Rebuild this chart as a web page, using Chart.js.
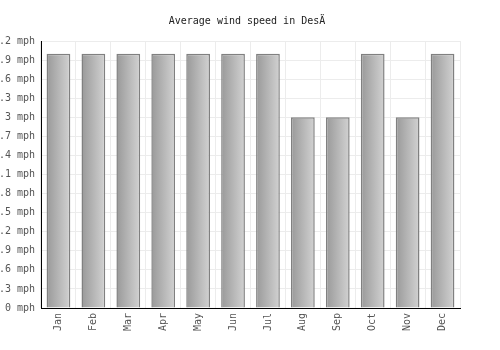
<!DOCTYPE html>
<html>
<head>
<meta charset="utf-8">
<script src="https://cdn.jsdelivr.net/npm/chart.js@4/dist/chart.umd.min.js"></script>
<style>
  html, body { margin: 0; padding: 0; background: #fff; }
  #wrap { width: 500px; height: 350px; }
</style>
</head>
<body>
<div id="wrap"><canvas id="windChart" width="500" height="350"></canvas></div>
<script>
const months = ['Jan', 'Feb', 'Mar', 'Apr', 'May', 'Jun', 'Jul', 'Aug', 'Sep', 'Oct', 'Nov', 'Dec'];
const windSpeed = [4.0, 4.0, 4.0, 4.0, 4.0, 4.0, 4.0, 3.0, 3.0, 4.0, 3.0, 4.0];
const yMax = 4.2;
const yStep = 0.3;
const titleText = 'Average wind speed in DesÄ';

// paint each bar with its own left-to-right grey gradient
const barGradient = {
  id: 'barGradient',
  beforeDatasetsDraw(chart) {
    const ctx = chart.ctx;
    chart.getDatasetMeta(0).data.forEach(bar => {
      const g = ctx.createLinearGradient(bar.x - bar.width / 2, 0, bar.x + bar.width / 2, 0);
      g.addColorStop(0, '#999999');
      g.addColorStop(1, '#d2d2d2');
      bar.options = Object.assign({}, bar.options, { backgroundColor: g });
    });
  }
};

// title drawn on the canvas, slightly off the plot centre like the original
const chartTitle = {
  id: 'chartTitle',
  afterDraw(chart) {
    const ctx = chart.ctx;
    ctx.save();
    ctx.font = '10px "DejaVu Sans Mono"';
    ctx.fillStyle = '#222';
    ctx.textAlign = 'center';
    ctx.textBaseline = 'middle';
    ctx.fillText(titleText, 247, 21);
    ctx.restore();
  }
};

new Chart(document.getElementById('windChart'), {
  type: 'bar',
  data: {
    labels: months,
    datasets: [{
      label: 'Wind speed',
      data: windSpeed,
      backgroundColor: '#b5b5b5',
      borderColor: '#808080',
      borderWidth: 1.5,
      categoryPercentage: 1,
      barPercentage: 0.68
    }]
  },
  options: {
    responsive: false,
    animation: false,
    layout: { padding: { top: 41, right: 40, left: 0, bottom: 0 } },
    plugins: {
      legend: { display: false },
      tooltip: { enabled: false },
      title: { display: false }
    },
    scales: {
      x: {
        grid: { color: '#ececec', drawTicks: false },
        border: { color: '#000', width: 1 },
        ticks: {
          color: '#555',
          font: { family: 'DejaVu Sans Mono', size: 10 },
          minRotation: 90,
          maxRotation: 90,
          padding: 5
        },
        afterFit(scale) { scale.height = 42; }
      },
      y: {
        min: 0,
        max: yMax,
        grid: { color: '#ececec', drawTicks: false },
        border: { color: '#000', width: 1 },
        ticks: {
          stepSize: yStep,
          color: '#555',
          font: { family: 'DejaVu Sans Mono', size: 10 },
          padding: 6,
          callback: v => (Math.round(v * 10) / 10) + ' mph'
        },
        afterFit(scale) { scale.width = 41; }
      }
    }
  },
  plugins: [barGradient, chartTitle]
});
</script>
</body>
</html>
